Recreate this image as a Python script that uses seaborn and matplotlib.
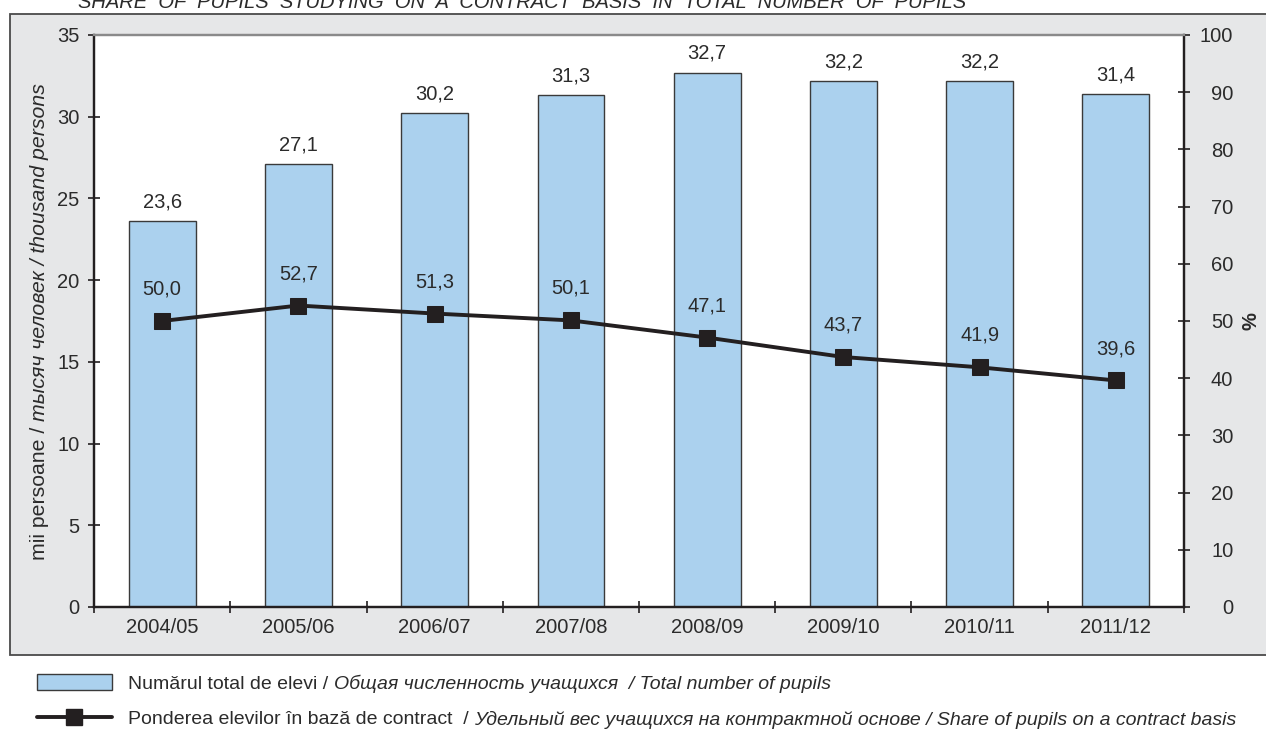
import numpy as np
import pandas as pd
import matplotlib
matplotlib.use("Agg")
import matplotlib.pyplot as plt
import matplotlib.patches as mpatches
from matplotlib.lines import Line2D
import seaborn as sns

# Date
years = ['2004/05', '2005/06', '2006/07', '2007/08', '2008/09', '2009/10', '2010/11', '2011/12']
total_pupils = [23.6, 27.1, 30.2, 31.3, 32.7, 32.2, 32.2, 31.4]
share_contract = [50.0, 52.7, 51.3, 50.1, 47.1, 43.7, 41.9, 39.6]

sns.set_theme(style="white")
plt.rcParams['font.family'] = ['Liberation Sans', 'DejaVu Sans']

BAR_COLOR = '#abd1ee'
INK = '#231f20'
TXT = '#2b2b2b'
FS = 14.5
FS_LEG = 14

df = pd.DataFrame({'an': years, 'elevi': total_pupils, 'pondere': share_contract})

fig = plt.figure(figsize=(12.66, 7.29), dpi=100)
ax = fig.add_axes([0.0743, 0.1674, 0.8609, 0.7846])

# fundal gri
bg = mpatches.Rectangle((0.008, 0.1015), 1.2, 0.879, transform=fig.transFigure,
                        facecolor='#e6e7e8', edgecolor='#4a4a4a', lw=1.3, zorder=-10)
fig.patches.append(bg)

sns.barplot(data=df, x='an', y='elevi', ax=ax, color=BAR_COLOR, width=0.49,
            edgecolor='#3a3a3a', linewidth=1.0, saturation=1)
ax.set_ylim(0, 35)
ax.set_xlim(-0.5, len(years) - 0.5)
ax.set_yticks(range(0, 36, 5))
ax.set_xlabel('')
ax.set_ylabel('')
ax.set_facecolor('white')
ax.bar_label(ax.containers[0], labels=[f'{v:.1f}'.replace('.', ',') for v in total_pupils],
             padding=7, fontsize=FS, color=TXT)

ax2 = ax.twinx()
sns.lineplot(x=np.arange(len(years)), y=share_contract, ax=ax2, color=INK, lw=2.8,
             marker='s', markersize=11, markeredgecolor=INK, markerfacecolor=INK)
ax2.set_ylim(0, 100)
ax2.set_yticks(range(0, 101, 10))
for i, v in enumerate(share_contract):
    ax2.annotate(f'{v:.1f}'.replace('.', ','), (i, v), xytext=(0, 23), textcoords='offset points',
                 ha='center', va='center', fontsize=FS, color=TXT)
ax2.set_ylabel('%', rotation=90, fontsize=FS, fontweight='bold', color=TXT, labelpad=6)

# axe si ticks
for a in (ax, ax2):
    for s in ('left', 'right', 'bottom'):
        a.spines[s].set_color(INK)
        a.spines[s].set_linewidth(1.6)
    a.spines['top'].set_color('#8a8a8a')
    a.spines['top'].set_linewidth(1.6)
ax.tick_params(axis='y', direction='inout', length=9, width=1.2, color=INK,
               labelsize=FS, labelcolor=TXT, pad=6, left=True)
ax2.tick_params(axis='y', direction='inout', length=9, width=1.2, color=INK,
                labelsize=FS, labelcolor=TXT, pad=31, right=True)
for lab in ax2.get_yticklabels():
    lab.set_horizontalalignment('right')
ax.tick_params(axis='x', which='major', length=0, labelsize=FS, labelcolor=TXT, pad=8)
ax.set_xticks(np.arange(-0.5, len(years), 1.0), minor=True)
ax.tick_params(axis='x', which='minor', direction='inout', length=9, width=1.2,
               color=INK, bottom=True)

# eticheta axei Y
t1 = fig.text(0.031, 0.232, 'mii persoane / ', rotation=90, fontsize=15.3, color=TXT,
              ha='center', va='bottom')
ax.annotate('тысяч человек / thousand persons', xy=(0.5, 1), xycoords=t1,
            rotation=90, fontsize=15.3, color=TXT, style='italic', ha='center', va='bottom')

# titlu (partial taiat)
fig.text(0.412, 0.989, 'SHARE  OF  PUPILS  STUDYING  ON  A  CONTRACT  BASIS  IN  TOTAL  NUMBER  OF  PUPILS',
         ha='center', va='baseline', fontsize=14.5, style='italic', color=TXT,
         family=['Liberation Sans Narrow', 'Liberation Sans'])

# legenda
handles = [mpatches.Patch(facecolor=BAR_COLOR, edgecolor='#3a3a3a', lw=1.0),
           Line2D([], [], color=INK, lw=2.8, marker='s', markersize=11)]
leg = fig.legend(handles, ['Numărul total de elevi / ', 'Ponderea elevilor în bază de contract  / '],
                 loc='upper left', bbox_to_anchor=(0.029, 0.076), frameon=False,
                 fontsize=FS_LEG, handlelength=3.85, handleheight=0.95, handletextpad=0.85,
                 labelspacing=0.85, borderaxespad=0, borderpad=0)
for t in leg.get_texts():
    t.set_color(TXT)
tails = ['Общая численность учащихся  / Total number of pupils',
         'Удельный вес учащихся на контрактной основе / Share of pupils on a contract basis']
for t, s in zip(leg.get_texts(), tails):
    ann = matplotlib.text.Annotation(s, xy=(1, 0.5), xycoords=t, ha='left', va='center',
                                     fontsize=FS_LEG, style='italic', color=TXT)
    ann.set_zorder(10)
    fig.add_artist(ann)

fig.savefig('out.png', dpi=100)
